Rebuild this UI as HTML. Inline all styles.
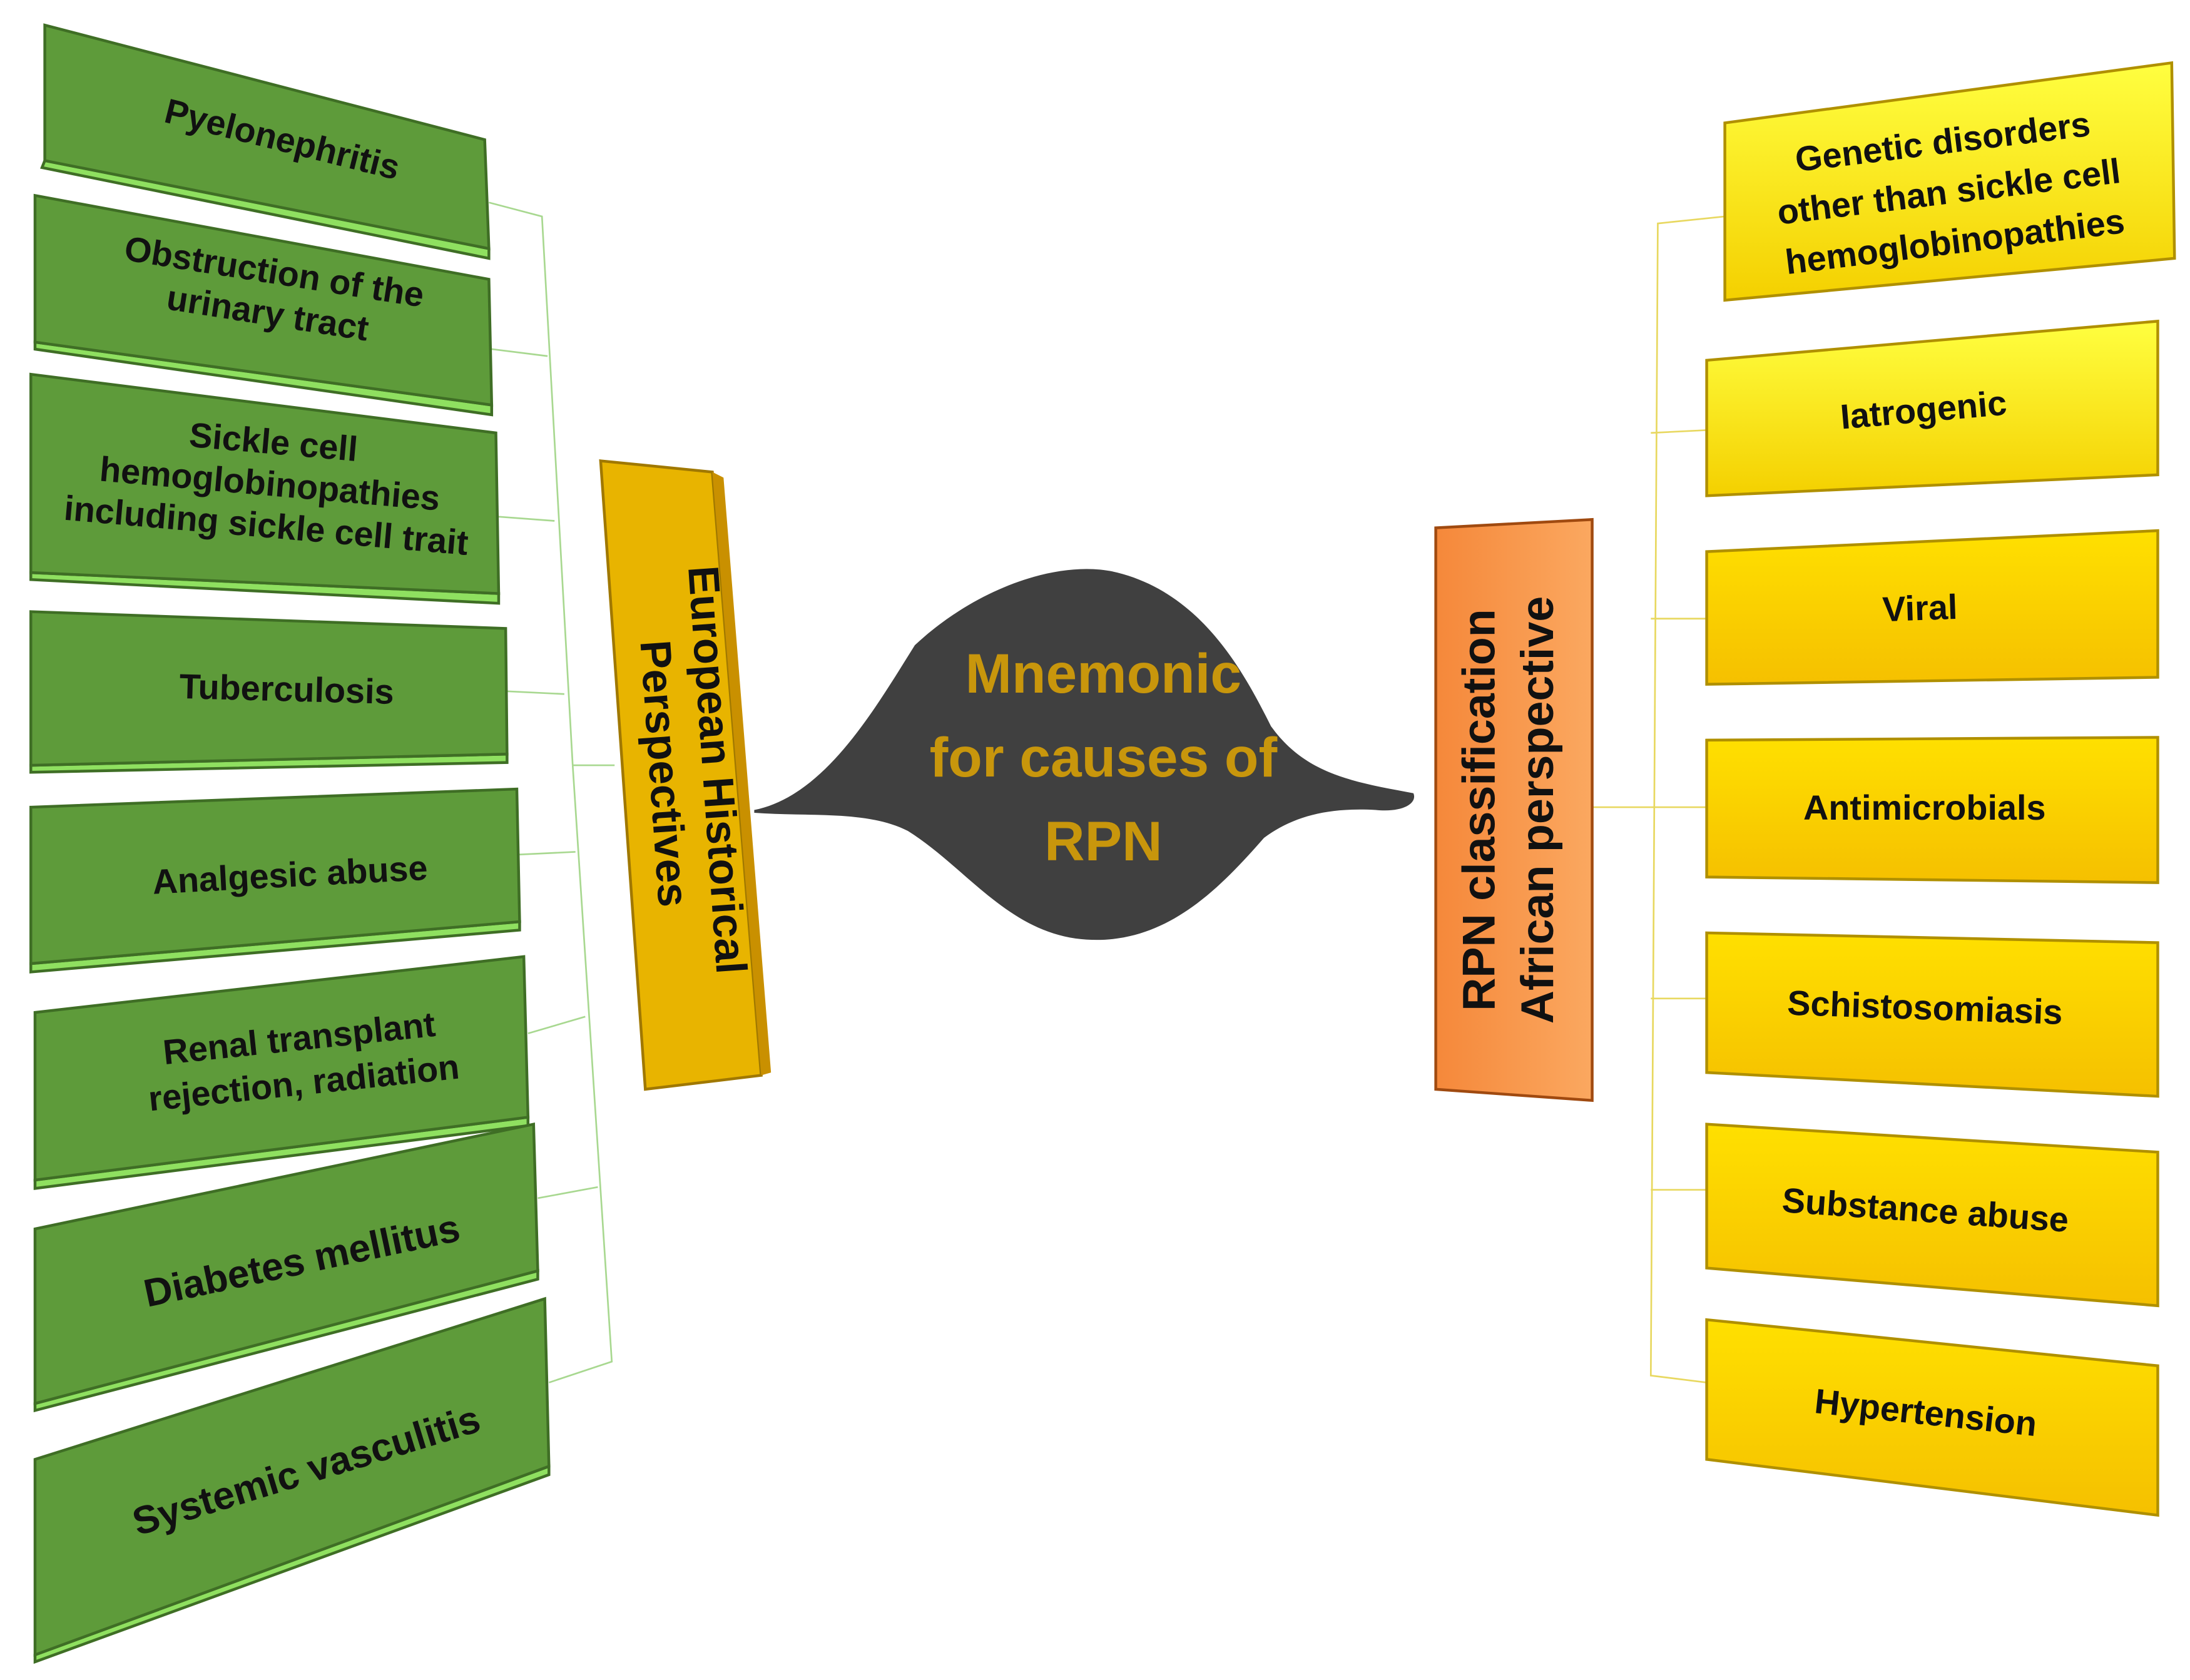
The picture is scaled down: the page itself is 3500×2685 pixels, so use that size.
<!DOCTYPE html>
<html><head><meta charset="utf-8"><style>html,body{margin:0;padding:0;background:#fff}svg{display:block}</style></head>
<body>
<svg width="3500" height="2685" viewBox="0 0 1568 1203" xmlns="http://www.w3.org/2000/svg" font-family="Liberation Sans, sans-serif" font-weight="bold">
<defs>
<linearGradient id="y1" x1="0" y1="0" x2="0" y2="1"><stop offset="0" stop-color="#ffff40"/><stop offset="1" stop-color="#f4d000"/></linearGradient>
<linearGradient id="y2" x1="0" y1="0" x2="0" y2="1"><stop offset="0" stop-color="#ffe000"/><stop offset="1" stop-color="#f5c000"/></linearGradient>
<linearGradient id="or" x1="0" y1="0" x2="1" y2="0"><stop offset="0" stop-color="#f5883a"/><stop offset="1" stop-color="#fba860"/></linearGradient>
</defs>
<g stroke="#a8d890" stroke-width="1.2" fill="none">
<polyline points="350,145 388,155 410,548"/>
<polyline points="352,250 392,255"/>
<polyline points="357,370 397,373"/>
<polyline points="363,495 404,497"/>
<polyline points="370,612 412,610"/>
<polyline points="378,740 419,728"/>
<polyline points="385,858 428,850"/>
<polyline points="393,990 438,975 410,548"/>
<line x1="410" y1="548" x2="440" y2="548"/>
</g>
<g stroke="#e8d860" stroke-width="1.2" fill="none">
<polyline points="1235,155 1187,160 1182,985 1222,990"/>
<line x1="1182" y1="310" x2="1222" y2="308"/>
<line x1="1182" y1="443" x2="1222" y2="443"/>
<line x1="1182" y1="578" x2="1222" y2="578"/>
<line x1="1182" y1="715" x2="1222" y2="715"/>
<line x1="1182" y1="852" x2="1222" y2="852"/>
<line x1="1140" y1="578" x2="1182" y2="578"/>
</g>
<g fill="#5e9b3a" stroke="#3f6e25" stroke-width="2">
<polygon points="30,120 350,185 350,178 32,115" fill="#8fe060"/>
<polygon points="32,18 347,100 350,178 32,115"/>
<polygon points="25,250 352,297 352,290 25,245" fill="#8fe060"/>
<polygon points="25,140 350,200 352,290 25,245"/>
<polygon points="22,415 357,432 357,425 22,410" fill="#8fe060"/>
<polygon points="22,268 355,310 357,425 22,410"/>
<polygon points="22,553 363,546 363,540 22,548" fill="#8fe060"/>
<polygon points="22,438 362,450 363,540 22,548"/>
<polygon points="22,696 372,666 372,660 22,690" fill="#8fe060"/>
<polygon points="22,578 370,565 372,660 22,690"/>
<polygon points="25,851 378,806 378,800 25,845" fill="#8fe060"/>
<polygon points="25,725 375,685 378,800 25,845"/>
<polygon points="25,1010 385,916 385,910 25,1005" fill="#8fe060"/>
<polygon points="25,880 382,805 385,910 25,1005"/>
<polygon points="25,1190 393,1056 393,1050 25,1185" fill="#8fe060"/>
<polygon points="25,1045 390,930 393,1050 25,1185"/>
</g>
<g font-size="25" fill="#111" text-anchor="middle">
<text transform="translate(200,108) rotate(14)">Pyelonephritis</text>
<text transform="translate(195,203) rotate(9)">Obstruction of the<tspan x="0" dy="30">urinary tract</tspan></text>
<text transform="translate(195,325) rotate(5)">Sickle cell<tspan x="0" dy="30">hemoglobinopathies</tspan><tspan x="0" dy="30">including sickle cell trait</tspan></text>
<text transform="translate(205,502) rotate(1.5)">Tuberculosis</text>
<text transform="translate(208,635) rotate(-3)">Analgesic abuse</text>
<text transform="translate(215,752) rotate(-6)">Renal transplant<tspan x="0" dy="32">rejection, radiation</tspan></text>
<text transform="translate(218,912) rotate(-12)" font-size="28">Diabetes mellitus</text>
<text transform="translate(222,1062) rotate(-17)" font-size="28">Systemic vasculitis</text>
</g>
<polygon points="430,330 510,338 545,770 462,780" fill="#e8b400" stroke="#a07800" stroke-width="2"/>
<polygon points="510,338 518,342 552,768 545,770" fill="#c99000"/>
<text transform="translate(503,552) rotate(86)" font-size="31" fill="#111" text-anchor="middle">European Historical<tspan x="0" dy="38">Perspectives</tspan></text>
<path d="M540,580 C590,570 625,510 655,462 C700,420 760,400 800,410 C860,425 890,480 910,520 C935,555 970,560 1012,568 C1015,575 1005,582 985,580 C950,578 925,585 905,600 C870,640 830,680 770,672 C720,665 690,620 650,595 C620,580 580,585 540,582 Z" fill="#404040"/>
<g font-size="40" fill="#c8960c" text-anchor="middle">
<text x="790" y="496">Mnemonic</text>
<text x="790" y="556">for causes of</text>
<text x="790" y="616">RPN</text>
</g>
<polygon points="1028,378 1140,372 1140,788 1028,780" fill="url(#or)" stroke="#a04a10" stroke-width="2"/>
<text transform="translate(1070,580) rotate(-90)" font-size="33" fill="#111" text-anchor="middle">RPN classification<tspan x="0" dy="42">African perspective</tspan></text>
<g stroke="#b09000" stroke-width="2">
<polygon points="1235,88 1555,45 1557,185 1235,215" fill="url(#y1)"/>
<polygon points="1222,258 1545,230 1545,340 1222,355" fill="url(#y1)"/>
<polygon points="1222,395 1545,380 1545,485 1222,490" fill="url(#y2)"/>
<polygon points="1222,530 1545,528 1545,632 1222,628" fill="url(#y2)"/>
<polygon points="1222,668 1545,675 1545,785 1222,768" fill="url(#y2)"/>
<polygon points="1222,805 1545,825 1545,935 1222,908" fill="url(#y2)"/>
<polygon points="1222,945 1545,978 1545,1085 1222,1045" fill="url(#y2)"/>
</g>
<g font-size="25" fill="#111" text-anchor="middle">
<text transform="translate(1392,110) rotate(-7)">Genetic disorders<tspan x="0" dy="36">other than sickle cell</tspan><tspan x="0" dy="36">hemoglobinopathies</tspan></text>
<text transform="translate(1378,302) rotate(-5)">Iatrogenic</text>
<text transform="translate(1375,444) rotate(-2)">Viral</text>
<text transform="translate(1378,587) rotate(0)">Antimicrobials</text>
<text transform="translate(1378,730) rotate(2)">Schistosomiasis</text>
<text transform="translate(1378,875) rotate(4)">Substance abuse</text>
<text transform="translate(1378,1020) rotate(6)">Hypertension</text>
</g>
</svg>
</body></html>
